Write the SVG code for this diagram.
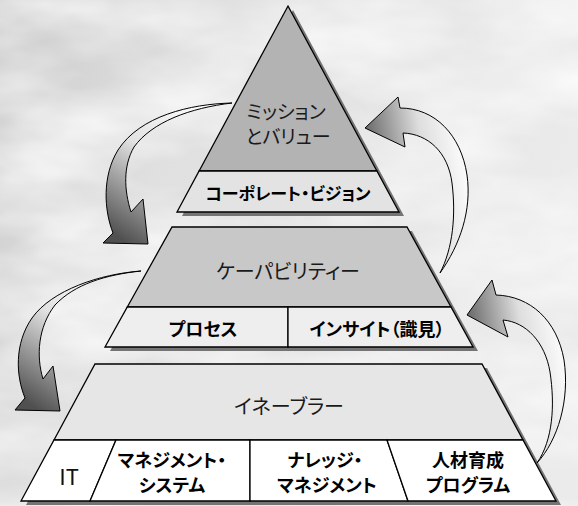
<svg xmlns="http://www.w3.org/2000/svg" width="578" height="506" viewBox="0 0 578 506">
<defs>
<style>
.shadow{fill:#747474}
.edge{stroke:#000;stroke-width:1.3;stroke-linejoin:miter}
.arrow{stroke:#000;stroke-width:1}
.lbl{font-family:"Noto Sans CJK JP","Noto Sans",sans-serif;font-feature-settings:"palt";dominant-baseline:central;text-anchor:middle}
.big{font-size:20px;fill:#1a1a1a}
.bold{font-size:17px;font-weight:bold;fill:#000}
.bold18{font-size:18px;font-weight:bold;fill:#000}
</style>
<linearGradient id="bg" x1="0" y1="0" x2="1" y2="0.35">
<stop offset="0" stop-color="#cbcbcb"/>
<stop offset="0.35" stop-color="#e0e0e0"/>
<stop offset="1" stop-color="#ebebeb"/>
</linearGradient>
<filter id="clouds" filterUnits="userSpaceOnUse" x="0" y="0" width="578" height="506">
<feTurbulence type="fractalNoise" baseFrequency="0.006 0.014" numOctaves="4" seed="7"/>
<feColorMatrix type="matrix" values="0 0 0 0 1 0 0 0 0 1 0 0 0 0 1 1.6 0 0 0 -0.55"/>
</filter>
<linearGradient id="gDown" x1="0.8" y1="0" x2="0.2" y2="1">
<stop offset="0" stop-color="#ffffff"/>
<stop offset="0.45" stop-color="#e2e2e2"/>
<stop offset="1" stop-color="#505050"/>
</linearGradient>
<linearGradient id="gLeft" x1="1" y1="0.3" x2="0" y2="0.6">
<stop offset="0" stop-color="#ffffff"/>
<stop offset="0.4" stop-color="#dedede"/>
<stop offset="1" stop-color="#4d4d4d"/>
</linearGradient>
</defs>

<g id="background">
<rect width="578" height="506" fill="url(#bg)"/>
<rect width="578" height="506" fill="#fff" filter="url(#clouds)"/>
</g>

<g id="tier-top">
<polygon class="shadow" points="293,10 404,216 182,216"/>
<g id="mission-values">
<polygon class="edge" fill="#b3b3b3" points="288,6 376.9,171 199.1,171"/>
<text class="lbl big" x="286" y="110" style="font-size:19px">ミッション</text>
<text class="lbl big" x="288" y="135" style="font-size:19px">とバリュー</text>
</g>
<g id="corporate-vision">
<polygon class="edge" fill="#e3e3e3" points="199.1,171 376.9,171 399,212 177,212"/>
<text class="lbl bold" x="288" y="192" textLength="165">コーポレート・ビジョン</text>
</g>
</g>

<g id="tier-middle">
<polygon class="shadow" points="177,231 412,231 478,351 110,351"/>
<g id="capability">
<polygon class="edge" fill="#c8c8c8" points="172,227 407,227 451,307 127.3,307"/>
<text class="lbl big" x="288" y="270">ケーパビリティー</text>
</g>
<g id="process">
<polygon class="edge" fill="#eeeeee" points="127.3,307 288,307 288,347 105,347"/>
<text class="lbl bold18" x="203" y="328">プロセス</text>
</g>
<g id="insight">
<polygon class="edge" fill="#eeeeee" points="288,307 451,307 473,347 288,347"/>
<text class="lbl bold18" x="377" y="328">インサイト（識見）</text>
</g>
</g>

<g id="tier-bottom">
<polygon class="shadow" points="100,368 487,368 561,505 26,505"/>
<g id="enabler">
<polygon class="edge" fill="#e6e6e6" points="95,364 482,364 523,440 54,440"/>
<text class="lbl big" x="289" y="405">イネーブラー</text>
</g>
<g id="it">
<polygon class="edge" fill="#ffffff" points="54,440 116,440 90,501 21,501"/>
<text class="lbl" x="69" y="475" style="font-size:22px;fill:#111">IT</text>
</g>
<g id="management-system">
<polygon class="edge" fill="#ffffff" points="116,440 250,440 250,501 90,501"/>
<text class="lbl bold18" x="172" y="459">マネジメント・</text>
<text class="lbl bold18" x="172" y="484">システム</text>
</g>
<g id="knowledge-management">
<polygon class="edge" fill="#ffffff" points="250,440 387,440 408,501 250,501"/>
<text class="lbl bold18" x="325" y="459">ナレッジ・</text>
<text class="lbl bold18" x="327" y="484">マネジメント</text>
</g>
<g id="hr-program">
<polygon class="edge" fill="#ffffff" points="387,440 523,440 556,501 408,501"/>
<text class="lbl bold18" x="468" y="459">人材育成</text>
<text class="lbl bold18" x="468" y="484">プログラム</text>
</g>
</g>

<g id="connectors">
<path class="arrow" fill="url(#gDown)" d="M232,103 C190,104 140,116 118,150 C102,176 104,210 113,233 L103,243 L148,244 L143,199 L131,212 C124,190 123,166 134,147 C152,122 190,108 232,103 Z"/>
<path class="arrow" fill="url(#gDown)" d="M141,271 C100,274 52,290 32,318 C14,344 16,376 25,398 L15,410 L60,411 L53,366 L43,379 C36,356 38,327 55,305 C75,284 105,275 141,271 Z"/>
<path class="arrow" fill="url(#gLeft)" d="M440,273 C460,245 472,210 467,175 C461,135 435,108 400,108 L398,97 L365,128 L405,147 L403,133 C428,134 448,152 452,183 C456,215 453,248 440,273 Z"/>
<path class="arrow" fill="url(#gLeft)" d="M537,463 C558,440 570,400 564,360 C557,320 530,296 496,295 L492,280 L467,315 L508,337 L503,320 C526,322 545,342 550,372 C555,405 553,440 537,463 Z"/>
</g>
</svg>
